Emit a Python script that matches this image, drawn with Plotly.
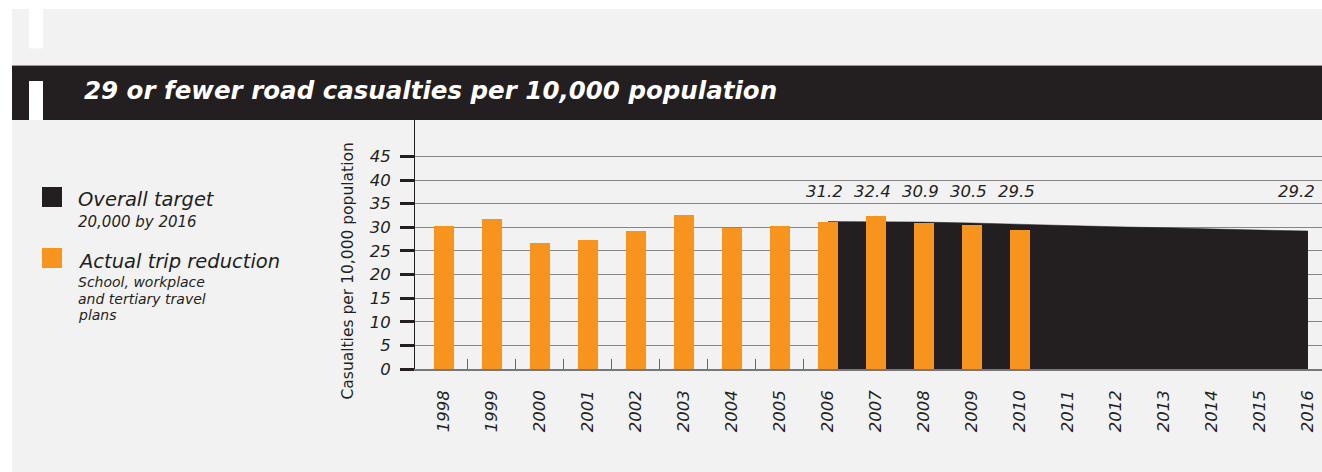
import plotly.graph_objects as go

# ---- data ----
years = list(range(1998, 2017))
actual_years = list(range(1998, 2011))
actual_values = [30.3, 31.8, 26.7, 27.4, 29.3, 32.5, 29.9, 30.3, 31.2, 32.4, 30.9, 30.5, 29.5]
target_years = list(range(2006, 2017))
target_values = [31.2, 31.2, 31.1, 30.9, 30.6, 30.4, 30.1, 29.9, 29.6, 29.4, 29.2]
labelled_years = [2006, 2007, 2008, 2009, 2010]
y_ticks = [0, 5, 10, 15, 20, 25, 30, 35, 40, 45]

# ---- styling ----
W, H = 1322, 472
L, R, T, B = 415, 0, 120, 103
PW, PH = W - L - R, H - T - B
ORANGE = "#f7941d"
DARK = "#231f20"
BG = "#f2f2f2"
FONT = "DejaVu Sans"
X_RANGE = [1997.396, 2016.292]
Y_RANGE = [0, PH / 4.724]


def fx(px):
    return (px - L) / PW


def fy(py):
    return (H - B - py) / PH


def rect(x0, y0, x1, y1, color):
    return dict(type="rect", xref="paper", yref="paper",
                x0=fx(x0), x1=fx(x1), y0=fy(y1), y1=fy(y0),
                fillcolor=color, line=dict(width=0), layer="above")


fig = go.Figure()

# target area (base axes)
fig.add_trace(go.Scatter(
    x=target_years, y=target_values, mode="lines", fill="tozeroy",
    fillcolor=DARK, line=dict(color=DARK, width=0.5),
    showlegend=False, hoverinfo="skip", xaxis="x", yaxis="y"))

# actual bars on overlay axes so they sit above the area
fig.add_trace(go.Bar(
    x=actual_years, y=actual_values, width=20 / 48,
    marker=dict(color=ORANGE, line=dict(width=0)),
    showlegend=False, xaxis="x2", yaxis="y2"))

shapes = [
    rect(0, 0, W, 9, "white"),
    rect(0, 0, 12, H, "white"),
    rect(29, 9, 43, 48.5, "white"),
    rect(12, 65.5, W, 120, DARK),
    dict(type="line", xref="paper", yref="paper", x0=fx(12), x1=fx(W),
         y0=fy(65.5), y1=fy(65.5), line=dict(color="#9a9a9a", width=1)),
    rect(29, 81, 43, 120, "white"),
    rect(42, 187, 62, 207, DARK),
    rect(42, 248, 62, 268, ORANGE),
]

annotations = []


def text(px, py, s, size, color=DARK, weight="normal", style="italic",
         xanchor="left", angle=0):
    annotations.append(dict(
        xref="paper", yref="paper", x=fx(px), y=fy(py), text=s,
        showarrow=False, xanchor=xanchor, yanchor="middle", textangle=angle,
        font=dict(family=FONT, size=size, color=color, weight=weight, style=style)))


text(82, 90.5, "29 or fewer road casualties per 10,000 population", 24.5,
     color="white", weight="bold")

# legend
text(76, 199.5, "Overall target", 19.5)
text(76, 221.5, "20,000 by 2016", 15)
text(76, 261.5, "Actual trip reduction", 19.5)
text(76, 282, "School, workplace", 14)
text(76, 298.5, "and tertiary travel", 14)
text(76, 315, "plans", 14)

annotations.append(dict(
    xref="paper", yref="paper", x=fx(347), y=fy(271.5),
    text="Casualties per 10,000 population", showarrow=False,
    xanchor="center", yanchor="middle", textangle=-90,
    font=dict(family=FONT, size=15.5, color=DARK)))

# value labels
LABEL_Y = 37.6
for yr in labelled_years:
    v = actual_values[actual_years.index(yr)]
    annotations.append(dict(
        x=yr, y=LABEL_Y, xref="x", yref="y", text=f"{v:.1f}", showarrow=False,
        xanchor="center", yanchor="middle", xshift=-3,
        font=dict(family=FONT, size=16.5, color=DARK, style="italic")))
annotations.append(dict(
    x=target_years[-1], y=LABEL_Y, xref="x", yref="y",
    text=f"{target_values[-1]:.1f}", showarrow=False,
    xanchor="right", yanchor="middle", xshift=9,
    font=dict(family=FONT, size=16.5, color=DARK, style="italic")))

tick_font = dict(family=FONT, size=16.5, color=DARK, style="italic")

fig.update_layout(
    width=W, height=H,
    margin=dict(l=L, r=R, t=T, b=B, pad=0),
    paper_bgcolor=BG, plot_bgcolor=BG,
    showlegend=False,
    bargap=0,
    shapes=shapes,
    annotations=annotations,
    xaxis=dict(
        range=X_RANGE, tickmode="array", tickvals=years,
        ticktext=[str(y) for y in years], tickangle=-90, tickfont=tick_font,
        ticks="", ticklabelstandoff=13,
        showline=True, linecolor="#777777", linewidth=1.5,
        showgrid=False, zeroline=False, layer="below traces",
        minor=dict(tickmode="array", tickvals=[y + 0.5 for y in years[:-1]],
                   ticks="inside", ticklen=10, tickcolor="#666666", tickwidth=1.3,
                   showgrid=False),
    ),
    yaxis=dict(
        range=Y_RANGE, tickmode="array", tickvals=y_ticks,
        ticktext=[str(v) for v in y_ticks], tickfont=tick_font,
        ticks="outside", ticklen=14, tickwidth=2.5, tickcolor=DARK,
        ticklabelstandoff=6,
        showline=True, linecolor=DARK, linewidth=1,
        showgrid=True, gridcolor="#858585", gridwidth=1, zeroline=False,
    ),
    xaxis2=dict(range=X_RANGE, overlaying="x", visible=False),
    yaxis2=dict(range=Y_RANGE, overlaying="y", visible=False),
)

fig.write_html("out.html")
